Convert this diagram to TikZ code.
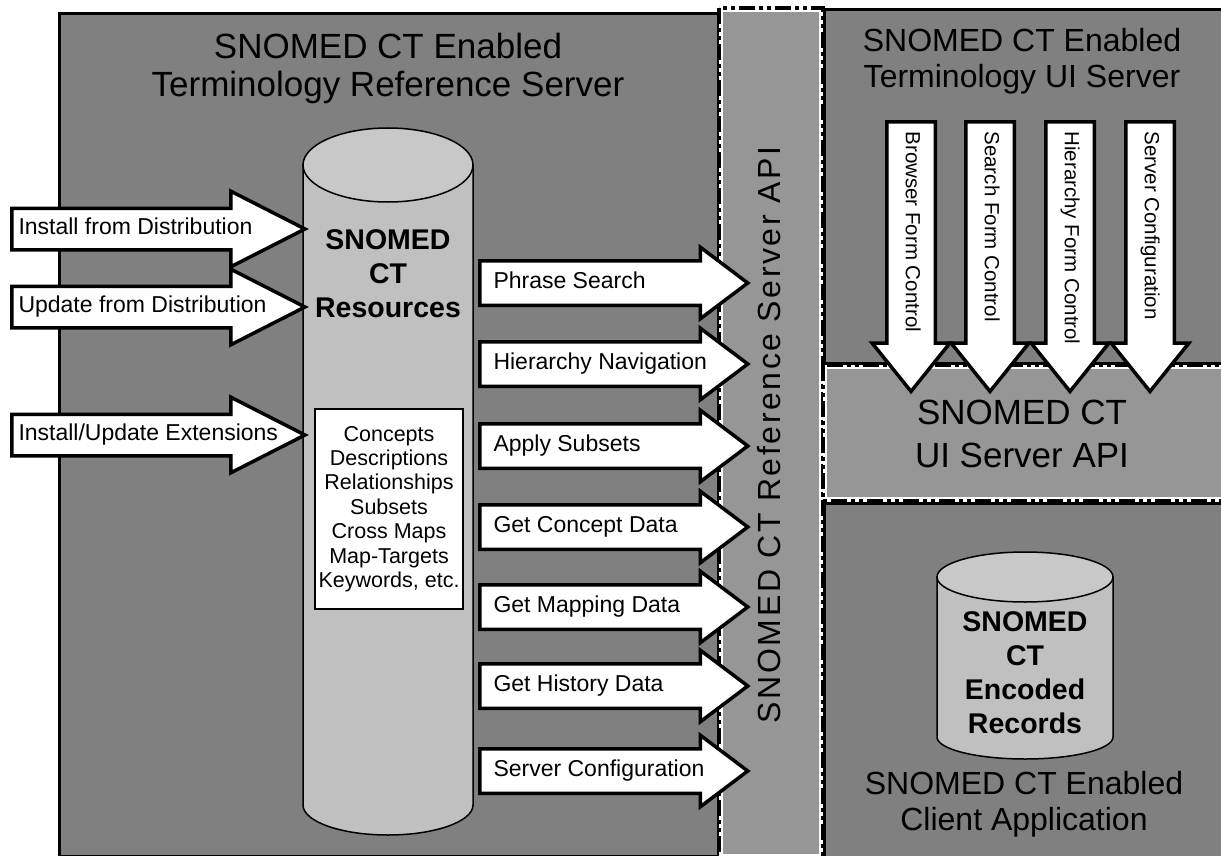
\documentclass[tikz,border=0pt]{standalone}
\usepackage{fontspec}
\setmainfont{Liberation Sans}
\newfontfamily\spacedfont[LetterSpace=8]{Liberation Sans}
\usetikzlibrary{shapes.arrows}

\definecolor{servergray}{HTML}{808080}
\definecolor{apigray}{HTML}{969696}
\definecolor{dbgray}{HTML}{C0C0C0}
\definecolor{dbtop}{HTML}{C8C8C8}

\begin{document}
\begin{tikzpicture}[
    x=1pt, y=-1pt,
    server/.style={rectangle, draw, line width=3pt, fill=servergray, anchor=north west, inner sep=0pt},
    api/.style={rectangle, fill=apigray, draw=white, line width=4pt, anchor=north west, inner sep=0pt},
    apiedge/.style={draw=black, line width=4.5pt, dash pattern=on 16pt off 4pt on 4pt off 4pt on 4pt off 4pt},
    title/.style={align=center, font=\fontsize{35}{38}\selectfont},
    subtitle/.style={align=center, font=\fontsize{32}{36}\selectfont},
    apilabel/.style={align=center, font=\fontsize{35}{43}\selectfont},
    dbarea/.style={rectangle, inner sep=0pt},
    dbbody/.style={draw, line width=1.5pt, fill=dbgray},
    dbend/.style={draw, line width=1.5pt, fill=dbtop},
    dblabel/.style={align=center, font=\bfseries\fontsize{28.5}{34}\selectfont},
    list/.style={rectangle, draw, line width=1.5pt, fill=white, align=center,
        font=\fontsize{21.5}{24.4}\selectfont},
    flow/.style={single arrow, draw, line width=3.5pt, fill=white, anchor=west, single arrow head indent=0pt},
    shaft/.style={execute at begin node={\hbox to #1\bgroup}, execute at end node={\hss\egroup}},
    inflow/.style={flow, shaft=239pt, font=\fontsize{23}{23}\selectfont, text height=16pt, text depth=5pt,
        inner xsep=5pt, inner ysep=8.5pt, single arrow head extend=17pt, single arrow tip angle=54},
    outflow/.style={flow, shaft=211pt, font=\fontsize{23}{23}\selectfont, text height=16pt, text depth=5pt,
        inner xsep=12pt, inner ysep=10pt, single arrow head extend=13.5pt, single arrow tip angle=74},
    downflow/.style={flow, rotate=-90, shaft=220pt, font=\fontsize{20.5}{20.5}\selectfont, text height=15pt,
        text depth=4.5pt, inner xsep=8pt, inner ysep=12.75pt, single arrow head extend=14.5pt, single arrow tip angle=77.6}
]

% Page frame
\useasboundingbox (0,0) rectangle (1221,856);
\clip (0,0) rectangle (1221,856);

% Servers and APIs
\node[server, minimum width=659pt, minimum height=843pt] (refserver) at (58,12) {};
\node[api, minimum width=100pt, minimum height=846pt] (refapi) at (719,8) {};
\draw[apiedge] (refapi.north west) rectangle (refapi.south east);
\node[server, minimum width=410pt, minimum height=354pt] (uiserver) at (823,8) {};
\node[api, minimum width=410pt, minimum height=132pt] (uiapi) at (823,365) {};
\draw[apiedge] (uiapi.north west) rectangle (uiapi.south east);
\node[server, minimum width=410pt, minimum height=360pt] (client) at (823,502) {};

% Titles
\node[title] (refserver-title) at (388,68) {SNOMED CT Enabled\\Terminology Reference Server};
\node[subtitle] (uiserver-title) at (1022,61) {SNOMED CT Enabled\\Terminology UI Server};
\node[apilabel] (uiapi-title) at (1022,434) {SNOMED CT\\UI Server API};
\node[subtitle] (client-title) at (1024,804) {SNOMED CT Enabled\\Client Application};
\node[rotate=90, font=\spacedfont\fontsize{32}{32}\selectfont] (refapi-title) at (769,435) {SNOMED CT Reference Server API};

% Terminology resources
\node[dbarea, minimum width=170pt, minimum height=707pt] (resources) at (388,481.5) {};
\draw[dbbody] (303,165) -- (303,805) arc[start angle=180, end angle=360, x radius=85pt, y radius=30pt] -- (473,165) -- cycle;
\draw[dbend] (388,165) ellipse [x radius=85pt, y radius=37pt];
\node[dblabel] (resources-title) at (388,274) {SNOMED\\CT\\Resources};
\node[list, minimum width=148pt, minimum height=200pt] (reslist) at (389,509)
    {Concepts\\Descriptions\\Relationships\\Subsets\\Cross Maps\\Map-Targets\\Keywords, etc.};

% Encoded records
\node[dbarea, minimum width=176pt, minimum height=208pt] (records) at (1025,656) {};
\draw[dbbody] (937,577) -- (937,737) arc[start angle=180, end angle=360, x radius=88pt, y radius=22pt] -- (1113,577) -- cycle;
\draw[dbend] (1025,577) ellipse [x radius=88pt, y radius=25pt];
\node[dblabel] (records-title) at (1025,673) {SNOMED\\CT\\Encoded\\Records};

% Distribution input
\node[inflow] (install) at (10,229) {Install from Distribution};
\node[inflow] (update) at (10,307) {Update from Distribution};
\node[inflow] (extensions) at (10,435) {Install/Update Extensions};

% Reference server services
\node[outflow] (phrase) at (478,283) {Phrase Search};
\node[outflow] (navigation) at (478,364) {Hierarchy Navigation};
\node[outflow] (subsets) at (478,446) {Apply Subsets};
\node[outflow] (concept) at (478,527) {Get Concept Data};
\node[outflow] (mapping) at (478,607) {Get Mapping Data};
\node[outflow] (history) at (478,686) {Get History Data};
\node[outflow] (refconfig) at (478,771) {Server Configuration};

% UI server controls
\node[downflow] (browserctl) at (911,120) {Browser Form Control};
\node[downflow] (searchctl) at (990,120) {Search Form Control};
\node[downflow] (hierarchyctl) at (1070,120) {Hierarchy Form Control};
\node[downflow] (uiconfig) at (1150,120) {Server Configuration};

\end{tikzpicture}
\end{document}
